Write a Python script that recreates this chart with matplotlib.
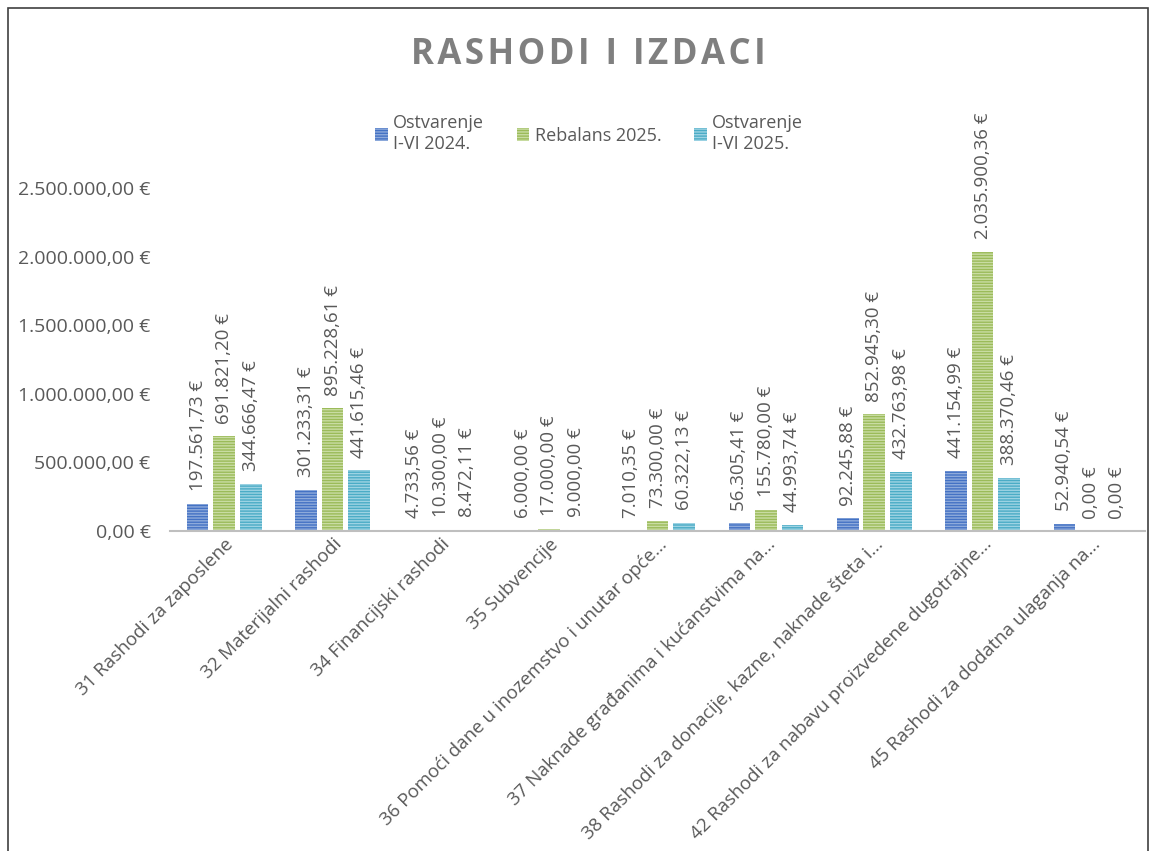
import matplotlib.pyplot as plt
from matplotlib.patches import Rectangle
import numpy as np

plt.rcParams['font.family'] = ['Open Sans', 'DejaVu Sans']
plt.rcParams['hatch.linewidth'] = 1.0

# data
categories = [
    "31 Rashodi za zaposlene",
    "32 Materijalni rashodi",
    "34 Financijski rashodi",
    "35 Subvencije",
    "36 Pomoći dane u inozemstvo i unutar opće...",
    "37 Naknade građanima i kućanstvima na...",
    "38 Rashodi za donacije, kazne, naknade šteta i...",
    "42 Rashodi za nabavu proizvedene dugotrajne...",
    "45 Rashodi za dodatna ulaganja na...",
]
series_names = ["Ostvarenje\nI-VI 2024.", "Rebalans 2025.", "Ostvarenje\nI-VI 2025."]
ostv_2024 = [197561.73, 301233.31, 4733.56, 6000.00, 7010.35, 56305.41, 92245.88, 441154.99, 52940.54]
rebalans_2025 = [691821.20, 895228.61, 10300.00, 17000.00, 73300.00, 155780.00, 852945.30, 2035900.36, 0.00]
ostv_2025 = [344666.47, 441615.46, 8472.11, 9000.00, 60322.13, 44993.74, 432763.98, 388370.46, 0.00]
yticks = [0, 500000, 1000000, 1500000, 2000000, 2500000]

colors = ["#4472C4", "#9BBB59", "#4BACC6"]
hatch_colors = ["#8EAADB", "#C9DCA3", "#9DD3E3"]
grey = "#595959"


def euro(v):
    s = f"{v:,.2f}"
    s = s.replace(",", "X").replace(".", ",").replace("X", ".")
    return s + " €"


fig = plt.figure(figsize=(11.55, 8.51), dpi=100)
ax = fig.add_axes([0.1472, 0.376, 0.8442, 0.403])

x = np.arange(len(categories))
width = 0.2
offset = 0.245
all_series = [ostv_2024, rebalans_2025, ostv_2025]
handles = []
for i, vals in enumerate(all_series):
    bars = ax.bar(x + (i - 1) * offset, vals, width, color=colors[i],
                  edgecolor=hatch_colors[i], linewidth=0, hatch='------',
                  label=series_names[i])
    handles.append(bars)
    for xi, v in zip(x + (i - 1) * offset, vals):
        ax.annotate(euro(v), (xi, v), xytext=(0, 9), textcoords='offset points',
                    rotation=90, ha='center', va='bottom', fontsize=13.5,
                    color=grey, annotation_clip=False)

ax.set_xlim(-0.5, len(categories) - 0.5)
ax.set_ylim(0, 2500000)
ax.set_yticks(yticks)
ax.set_yticklabels([euro(v) for v in yticks], fontsize=14, color=grey)
ax.set_xticks(x)
ax.set_xticklabels(categories, rotation=45, ha='right', rotation_mode='anchor',
                   fontsize=13.5, color=grey)
ax.tick_params(axis='both', length=0)
ax.tick_params(axis='y', pad=14)
ax.tick_params(axis='x', pad=3)
for side in ['top', 'right', 'left']:
    ax.spines[side].set_visible(False)
ax.spines['bottom'].set_color('#BFBFBF')
ax.spines['bottom'].set_linewidth(1.5)

title = "\u200a".join("RASHODI I IZDACI")
fig.text(0.509, 0.935, title, ha='center', va='center',
         fontsize=25, fontweight='bold', color='#7F7F7F')

fig.legend(handles=handles, labels=series_names, loc='upper center',
           bbox_to_anchor=(0.51, 0.885), ncol=3, frameon=False, fontsize=13,
           labelcolor=grey, handlelength=0.7, handleheight=0.7,
           handletextpad=0.3, columnspacing=1.8)

fig.patches.append(Rectangle((8 / 1155, -0.05), 1140 / 1155, 1.05 - 8 / 851,
                             transform=fig.transFigure, fill=False,
                             edgecolor='#404040', linewidth=1.2))

fig.savefig("out.png", dpi=100)
